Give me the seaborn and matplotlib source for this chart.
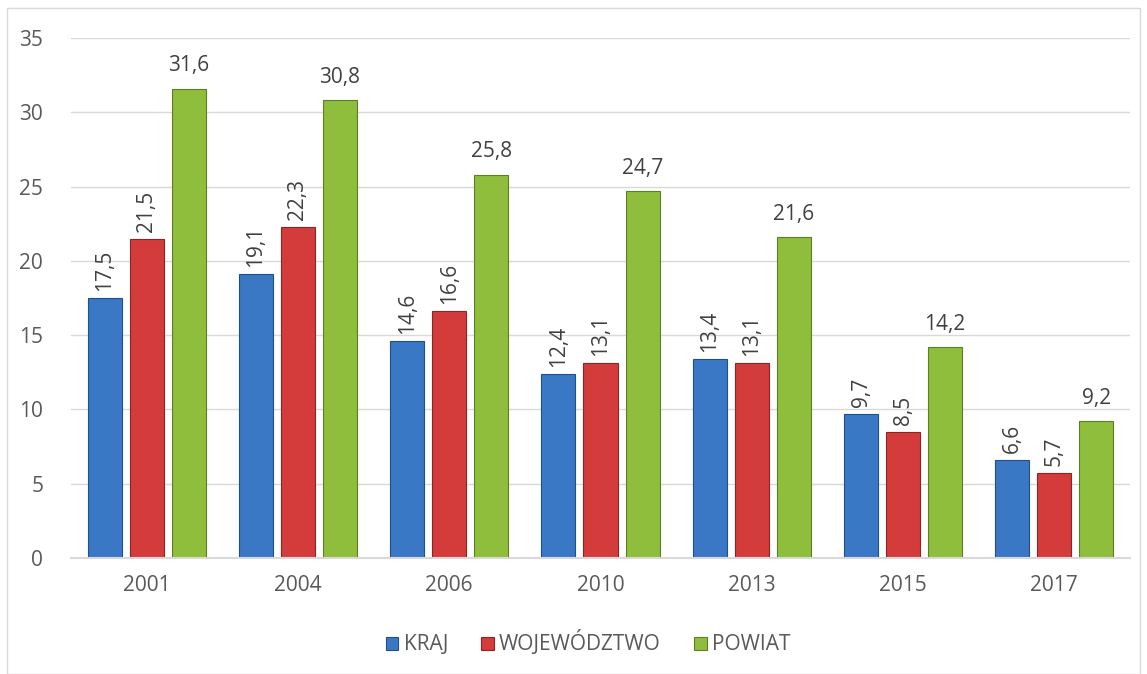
import pandas as pd
import matplotlib.pyplot as plt
import seaborn as sns
from matplotlib.patches import Rectangle

# Dane
lata = ['2001', '2004', '2006', '2010', '2013', '2015', '2017']
kraj = [17.5, 19.1, 14.6, 12.4, 13.4, 9.7, 6.6]
wojewodztwo = [21.5, 22.3, 16.6, 13.1, 13.1, 8.5, 5.7]
powiat = [31.6, 30.8, 25.8, 24.7, 21.6, 14.2, 9.2]
serie = ['KRAJ', 'WOJEWÓDZTWO', 'POWIAT']
kolory = ['#3a78c6', '#d43c3c', '#8fbd3c']
krawedzie = ['#1f4f8a', '#8f2222', '#5c7f22']

df = pd.DataFrame({
    'Rok': lata * 3,
    'Wartosc': kraj + wojewodztwo + powiat,
    'Seria': [s for s in serie for _ in lata],
})

sns.set_theme(style='white')
plt.rcParams['font.family'] = ['Open Sans', 'DejaVu Sans']
szary = '#595959'
rozmiar = 15

fig = plt.figure(figsize=(11.47, 6.74), dpi=100)
ax = fig.add_axes([71 / 1147, 1 - 558 / 674, (1130 - 71) / 1147, (558 - 38) / 674])

sns.barplot(data=df, x='Rok', y='Wartosc', hue='Seria', palette=kolory,
            saturation=1, width=0.834, gap=0.19, ax=ax, legend=False)

for cont, kr in zip(ax.containers, krawedzie):
    for p in cont:
        p.set_edgecolor(kr)
        p.set_linewidth(0.8)

# etykiety wartości
for i, cont in enumerate(ax.containers):
    etyk = [f'{v:.1f}'.replace('.', ',') for v in cont.datavalues]
    if i < 2:
        ax.bar_label(cont, labels=etyk, rotation=90, padding=5,
                     fontsize=rozmiar, color='#404040')
    else:
        ax.bar_label(cont, labels=etyk, padding=9, fontsize=rozmiar, color='#404040')

ax.set_ylim(0, 35)
ax.set_yticks(range(0, 36, 5))
ax.yaxis.grid(True, color='#d9d9d9', linewidth=1)
ax.set_axisbelow(True)
ax.set_xlabel('')
ax.set_ylabel('')
ax.tick_params(axis='both', colors=szary, labelsize=rozmiar, length=0)
ax.tick_params(axis='x', pad=12)
ax.tick_params(axis='y', pad=20)
for s in ['top', 'right', 'left']:
    ax.spines[s].set_visible(False)
ax.spines['bottom'].set_color('#d9d9d9')
ax.spines['bottom'].set_linewidth(1.5)

# legenda
uchwyty = [Rectangle((0, 0), 1, 1, facecolor=c, edgecolor=k, linewidth=0.8)
           for c, k in zip(kolory, krawedzie)]
fig.legend(uchwyty, serie, loc='center', bbox_to_anchor=(588 / 1147, 1 - 643 / 674),
           ncol=3, frameon=False, fontsize=rozmiar, handlelength=0.6, handleheight=0.6,
           handletextpad=0.25, columnspacing=1.6, labelcolor=szary)

# ramka obszaru wykresu
fig.patches.append(Rectangle((7 / 1147, 0), (1140 - 7) / 1147, 1 - 8 / 674,
                             transform=fig.transFigure, fill=False,
                             edgecolor='#d9d9d9', linewidth=1))

plt.savefig('out.png', dpi=100)
